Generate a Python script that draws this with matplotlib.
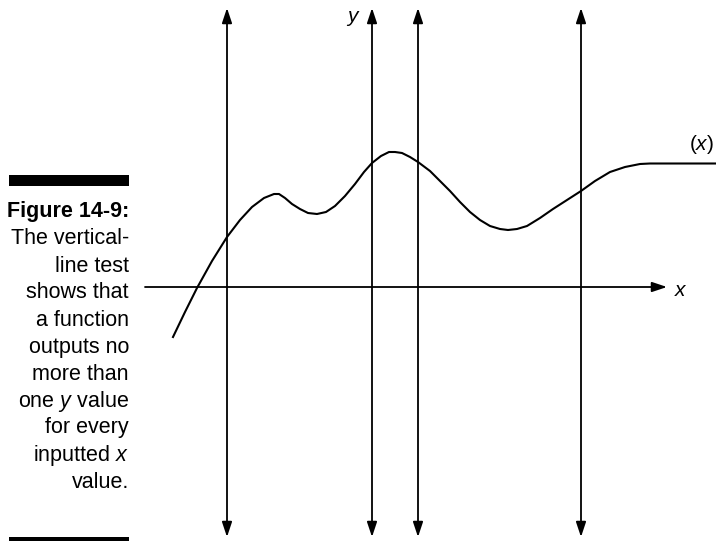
import matplotlib
matplotlib.use('Agg')
import matplotlib.pyplot as plt

# caption lines (right aligned, left of the drawing)
caption_title = "Figure 14-9:"
caption_lines = ["The vertical-", "line test", "shows that", "a function",
                 "outputs no", "more than", r"one $\it{y}$ value", "for every",
                 r"inputted $\it{x}$", "value."]

# the curve f(x) (pixel coords, y grows downward)
curve_x = [173, 185, 197, 212, 227, 240, 252, 264, 274, 279, 285, 292, 300,
           308, 317, 326, 335, 345, 355, 364, 372, 381, 389, 395, 402, 410,
           418, 430, 440, 450, 460, 470, 480, 490, 500, 508, 517, 527, 540,
           553, 567, 581, 595, 610, 625, 640, 650, 716]
curve_y = [337, 312, 288, 261, 237, 220, 207, 198, 194, 194, 198, 204, 209,
           213, 214, 212, 206, 196, 184, 172, 163, 156, 152, 152, 153, 157,
           162, 171, 181, 191, 202, 212, 220, 226, 229, 230, 229, 226, 218,
           209, 200, 191, 181, 172, 167, 164, 163.5, 163.5]

# vertical test lines, the one at 372 is the y axis
vlines_x = [227, 372, 418, 581]
vline_top = 8
vline_bottom = 537

# x axis
xaxis_y = 287
xaxis_left = 145
xaxis_right = 667

plt.rcParams['font.family'] = ['Liberation Sans', 'DejaVu Sans']
plt.rcParams['mathtext.fontset'] = 'custom'
plt.rcParams['mathtext.it'] = 'Liberation Sans:italic'
plt.rcParams['mathtext.rm'] = 'Liberation Sans'

fig = plt.figure(figsize=(7.16, 5.41), dpi=100)
ax = fig.add_axes([0, 0, 1, 1])
ax.set_xlim(0, 716)
ax.set_ylim(541, 0)
ax.axis('off')

arrow = dict(arrowstyle='<|-|>,head_length=0.9,head_width=0.3', mutation_scale=10,
             lw=1.3, color='black', shrinkA=0, shrinkB=0)
for xv in vlines_x:
    ax.annotate('', xy=(xv, vline_top), xytext=(xv, vline_bottom), arrowprops=arrow)

ax.annotate('', xy=(xaxis_right, xaxis_y), xytext=(xaxis_left, xaxis_y),
            arrowprops=dict(arrowstyle='-|>,head_length=0.9,head_width=0.3', mutation_scale=10,
                            lw=1.3, color='black', shrinkA=0, shrinkB=0))

ax.plot(curve_x, curve_y, color='black', lw=1.5, solid_joinstyle='round')

ax.text(352, 16, 'y', style='italic', fontsize=15, ha='center', va='center')
ax.text(680, 290, 'x', style='italic', fontsize=15, ha='center', va='center')
ax.text(714, 144, r'($\it{x}$)', fontsize=15, ha='right', va='center')

# black bars above and below the caption
ax.fill_between([9, 129], 175, 186, color='black', lw=0)
ax.fill_between([9, 129], 537, 548, color='black', lw=0)

ax.text(129, 212, caption_title, fontsize=15.5, weight='bold', ha='right', va='center')
for i, line in enumerate(caption_lines):
    ax.text(129, 239 + i * 27, line, fontsize=15.5, ha='right', va='center')

fig.savefig('out.png', dpi=100)
